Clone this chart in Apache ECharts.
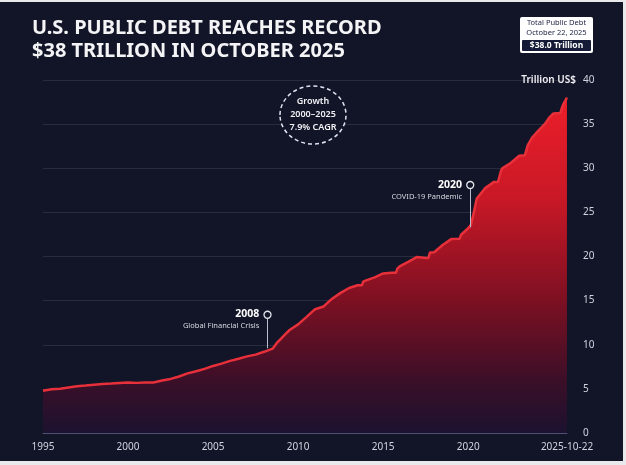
<!DOCTYPE html>
<html>
<head>
<meta charset="utf-8">
<title>U.S. Public Debt</title>
<script src="https://cdn.jsdelivr.net/npm/echarts@6/dist/echarts.min.js"></script>
<style>
    html, body { margin: 0; padding: 0; background: #e9e9ec; }
    #chart { position: absolute; left: 0; top: 2px; width: 623px; height: 459px; background: #111527; }
</style>
</head>
<body>
<div id="chart"></div>
<script>
// 日期 / 公共债务（万亿美元）
var dates = [
    '1995-01', '1995-07', '1996-01', '1996-07', '1997-01', '1997-07', '1998-01', '1998-07',
    '1999-01', '1999-07', '2000-01', '2000-07', '2001-01', '2001-07', '2002-01', '2002-07',
    '2003-01', '2003-07', '2004-01', '2004-07', '2005-01', '2005-07', '2006-01', '2006-07',
    '2007-01', '2007-07', '2008-01', '2008-07', '2008-10', '2009-01', '2009-04', '2009-07',
    '2010-01', '2010-07', '2011-01', '2011-07', '2012-01', '2012-07', '2013-01', '2013-07',
    '2013-10', '2013-11', '2014-01', '2014-07', '2015-01', '2015-07', '2015-10', '2015-11',
    '2016-01', '2016-07', '2017-01', '2017-07', '2017-09', '2017-10', '2018-01', '2018-07',
    '2019-01', '2019-07', '2019-08', '2020-01', '2020-03', '2020-05', '2020-07', '2021-01',
    '2021-07', '2021-10', '2021-12', '2022-01', '2022-07', '2023-01', '2023-05', '2023-07',
    '2023-10', '2024-01', '2024-07', '2024-10', '2025-01', '2025-06', '2025-07', '2025-08',
    '2025-10-22'
];
var debt = [
    4.80, 4.95, 5.02, 5.16, 5.30, 5.38, 5.48, 5.55,
    5.60, 5.66, 5.72, 5.68, 5.72, 5.72, 5.94, 6.13,
    6.40, 6.76, 7.00, 7.27, 7.60, 7.86, 8.17, 8.42,
    8.68, 8.88, 9.20, 9.56, 10.20, 10.70, 11.20, 11.67,
    12.31, 13.16, 14.03, 14.34, 15.22, 15.88, 16.43, 16.74,
    16.74, 17.16, 17.29, 17.63, 18.08, 18.15, 18.15, 18.63,
    18.92, 19.43, 19.95, 19.84, 19.84, 20.44, 20.49, 21.31,
    21.97, 22.02, 22.46, 23.20, 23.60, 25.00, 26.55, 27.75,
    28.43, 28.43, 29.62, 29.99, 30.60, 31.41, 31.46, 32.60,
    33.44, 34.00, 35.00, 35.70, 36.20, 36.25, 36.80, 37.20,
    38.00
];
var xTickYears = [1995, 2000, 2005, 2010, 2015, 2020, 2025];
var xLabelYears = [1995, 2000, 2005, 2010, 2015, 2020, 2025.81];
var lastLabel = '2025-10-22';

// 事件标注
var events = [
    { year: 2008.2, base: 9.6, top: 13.4, title: '2008', text: 'Global Financial Crisis' },
    { year: 2020.12, base: 23.3, top: 28.1, title: '2020', text: 'COVID-19 Pandemic' }
];

var bg = '#111527';
var fontName = '"Noto Sans", "Open Sans", sans-serif';

/** 'YYYY-MM' 或 'YYYY-MM-DD' 转为小数年份 */
function toYear(s) {
    var p = s.split('-');
    var y = Number(p[0]);
    var m = Number(p[1]) - 1;
    var d = p.length > 2 ? (Number(p[2]) - 1) / 31 : 0;
    return y + (m + d) / 12;
}

var seriesData = [];
for (var i = 0; i < dates.length; i++) {
    seriesData.push([toYear(dates[i]), debt[i]]);
}

var markLines = [];
var markPoints = [];
for (var k = 0; k < events.length; k++) {
    var ev = events[k];
    markLines.push([{ coord: [ev.year, ev.base] }, { coord: [ev.year, ev.top - 0.45] }]);
    markPoints.push({
        coord: [ev.year, ev.top],
        label: {
            formatter: '{y|' + ev.title + '}\n{t|' + ev.text + '}'
        }
    });
}

var myChart = echarts.init(document.getElementById('chart'));
var option = {
    backgroundColor: bg,
    animation: false,
    title: {
        text: 'U.S. PUBLIC DEBT REACHES RECORD\n$38 TRILLION IN OCTOBER 2025',
        left: 27,
        top: 10,
        textStyle: {
            color: '#f4f4f6',
            fontFamily: fontName,
            fontWeight: 'bold',
            fontSize: 20,
            lineHeight: 23
        }
    },
    grid: {
        left: 43,
        right: 56,
        top: 78,
        bottom: 28
    },
    xAxis: {
        type: 'value',
        min: 1995,
        max: 2025.81,
        axisLine: { show: true, lineStyle: { color: '#4d5270', width: 1 } },
        axisTick: {
            show: true,
            inside: true,
            length: 4,
            customValues: xTickYears,
            lineStyle: { color: '#6a6f88' }
        },
        axisLabel: {
            customValues: xLabelYears,
            color: '#d2d4e0',
            fontFamily: fontName,
            fontSize: 10,
            margin: 9,
            formatter: function (v) {
                return v > 2025 ? lastLabel : String(Math.round(v));
            }
        },
        splitLine: { show: false }
    },
    yAxis: {
        type: 'value',
        position: 'right',
        min: 0,
        max: 40,
        interval: 5,
        axisLine: { show: false },
        axisTick: { show: false },
        axisLabel: {
            color: '#d2d4e0',
            fontFamily: fontName,
            fontSize: 10,
            margin: 16
        },
        splitLine: { lineStyle: { color: 'rgba(255,255,255,0.10)', width: 1 } }
    },
    series: [{
        name: 'Public Debt',
        type: 'line',
        data: seriesData,
        showSymbol: false,
        smooth: false,
        lineStyle: { color: '#e8303a', width: 2.5 },
        areaStyle: {
            opacity: 1,
            color: new echarts.graphic.LinearGradient(0, 0, 0, 1, [
                { offset: 0, color: '#ec1f2a' },
                { offset: 0.3, color: '#c91826' },
                { offset: 0.6, color: '#7e1022' },
                { offset: 0.85, color: '#3a0f28' },
                { offset: 1, color: '#1c1230' }
            ])
        },
        markLine: {
            silent: true,
            symbol: ['none', 'none'],
            label: { show: false },
            lineStyle: { color: '#b9bdcc', width: 1, type: 'solid' },
            data: markLines
        },
        markPoint: {
            silent: true,
            symbol: 'circle',
            symbolSize: 7,
            itemStyle: { color: bg, borderColor: '#e2e4ec', borderWidth: 1.3 },
            label: {
                show: true,
                position: 'left',
                distance: 4,
                offset: [0, 5],
                align: 'right',
                rich: {
                    y: { color: '#ffffff', fontFamily: fontName, fontWeight: 'bold', fontSize: 10.5, align: 'right', lineHeight: 13 },
                    t: { color: '#d6d8e2', fontFamily: fontName, fontSize: 7.5, align: 'right', lineHeight: 11 }
                }
            },
            data: markPoints
        }
    }],
    graphic: [
        // 右上角数值框
        { type: 'rect', z: 100, shape: { x: 520, y: 15, width: 73, height: 36, r: 2 }, style: { fill: '#ffffff' } },
        { type: 'text', z: 101, x: 556.5, y: 21, style: { text: 'Total Public Debt', fill: '#1b2040', fontSize: 7.5, fontFamily: fontName, align: 'center', verticalAlign: 'middle' } },
        { type: 'text', z: 101, x: 556.5, y: 30.5, style: { text: 'October 22, 2025', fill: '#1b2040', fontSize: 7.5, fontFamily: fontName, align: 'center', verticalAlign: 'middle' } },
        { type: 'rect', z: 101, shape: { x: 522, y: 38, width: 69, height: 11, r: 1 }, style: { fill: '#151a36' } },
        { type: 'text', z: 102, x: 556.5, y: 43.5, style: { text: '$38.0 Trillion', fill: '#ffffff', fontSize: 8.5, fontWeight: 'bold', fontFamily: fontName, align: 'center', verticalAlign: 'middle' } },
        // 单位
        { type: 'text', z: 100, x: 576, y: 78, style: { text: 'Trillion US$', fill: '#f0f0f4', fontSize: 10, fontWeight: 600, fontFamily: fontName, align: 'right', verticalAlign: 'middle' } },
        // 增长率圆圈
        { type: 'ellipse', z: 100, shape: { cx: 313, cy: 113, rx: 33, ry: 29 }, style: { fill: bg, stroke: '#dfe3ee', lineWidth: 1.5, lineDash: [4, 3] } },
        { type: 'text', z: 101, x: 313, y: 99, style: { text: 'Growth', fill: '#f2f2f6', fontSize: 9, fontWeight: 600, fontFamily: fontName, align: 'center', verticalAlign: 'middle' } },
        { type: 'text', z: 101, x: 313, y: 112, style: { text: '2000–2025', fill: '#f2f2f6', fontSize: 9, fontWeight: 600, fontFamily: fontName, align: 'center', verticalAlign: 'middle' } },
        { type: 'text', z: 101, x: 313, y: 125, style: { text: '7.9% CAGR', fill: '#f2f2f6', fontSize: 9, fontWeight: 600, fontFamily: fontName, align: 'center', verticalAlign: 'middle' } }
    ]
};
myChart.setOption(option);
</script>
</body>
</html>
